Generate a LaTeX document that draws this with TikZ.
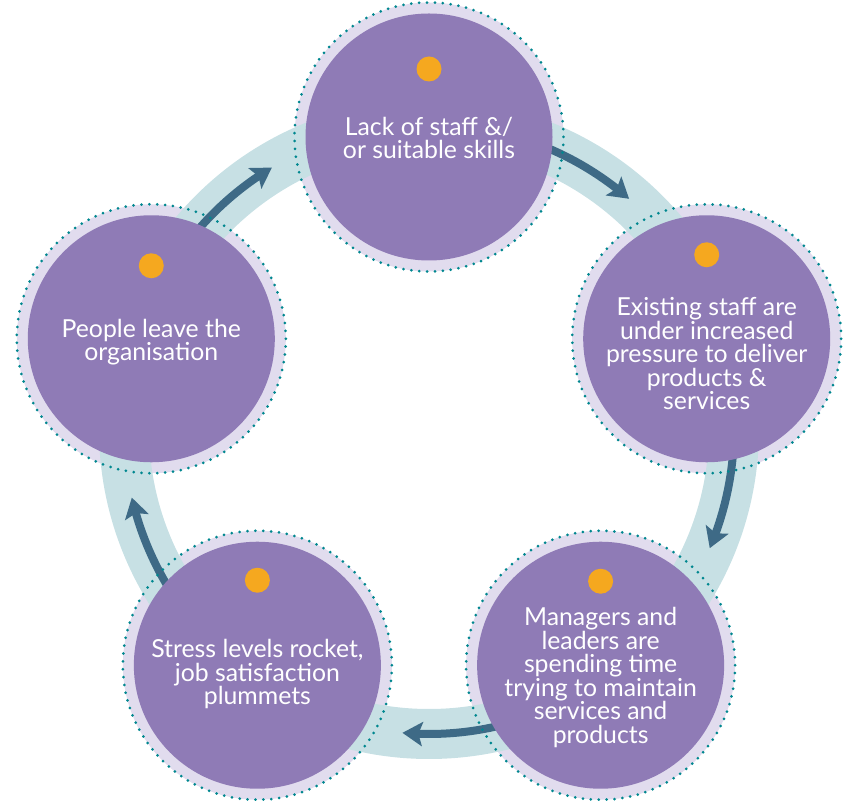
\documentclass[tikz,border=0pt]{standalone}
\usepackage{fontspec}
\setmainfont{Lato}
\usetikzlibrary{arrows.meta,bending,calc}
\definecolor{purp}{HTML}{8F7BB6}
\definecolor{lav}{HTML}{E1DCEE}
\definecolor{ringc}{HTML}{C7E0E4}
\definecolor{flowc}{HTML}{3E6A86}
\definecolor{dotc}{HTML}{00878F}
\definecolor{spot}{HTML}{F5A81F}
\begin{document}
\begin{tikzpicture}[x=1pt,y=1pt,>={Stealth[length=20pt,width=24pt,inset=4pt]},
    flow/.style={->,draw=flowc,line width=8pt},
    bubble/.style={circle,fill=purp,minimum size=247pt,inner sep=0pt},
    edge/.style={draw=dotc,line width=3pt,line cap=round,dash pattern=on 0pt off 7.9pt},
    txt/.style={text=white,align=center,inner sep=0pt,font=\fontsize{24.8}{23.5}\selectfont}]
  \useasboundingbox (0,0) rectangle (844,801);
  \coordinate (o) at (429,372);
  \foreach \name/\ang in {lack/90,press/18,manage/-54,stress/-126,leave/162}{
    \coordinate (c-\name) at ($(o)+(\ang:292)$);
    \coordinate (r-\name) at ($(o)+(\ang:305)$);
    \fill[lav] (c-\name) circle (134.5);
  }
  % the ring
  \draw[ringc,line width=50pt] (o) circle (305);
  % arrows along the ring
  \draw[flow] (r-lack) arc[start angle=90,end angle=49,radius=305];
  \draw[flow] (r-press) arc[start angle=18,end angle=-23,radius=305];
  \draw[flow] (r-manage) arc[start angle=-54,end angle=-95,radius=305];
  \draw[flow] (r-stress) arc[start angle=-126,end angle=-167,radius=305];
  \draw[flow] (r-leave) arc[start angle=162,end angle=121,radius=305];
  % circles
  \foreach \name/\up/\down/\txt in {
      lack/68/1/{Lack of staff \&/\\or suitable skills},
      press/84/15/{Existing staff are\\under increased\\pressure to deliver\\products \&\\services},
      manage/84/12.5/{Managers and\\leaders are\\spending time\\trying to maintain\\services and\\products},
      stress/85/9/{Stress levels rocket,\\job satisfaction\\plummets},
      leave/73/3.5/{People leave the\\organisation}}{
    \node[bubble] (\name) at (c-\name) {};
    \draw[edge] (\name.center) circle (134.5);
    \fill[spot] ($(\name.center)+(0,\up)$) circle (12.5);
    \node[txt] (\name-t) at ($(\name.center)+(0,-\down)$) {\txt};
  }
\end{tikzpicture}
\end{document}
